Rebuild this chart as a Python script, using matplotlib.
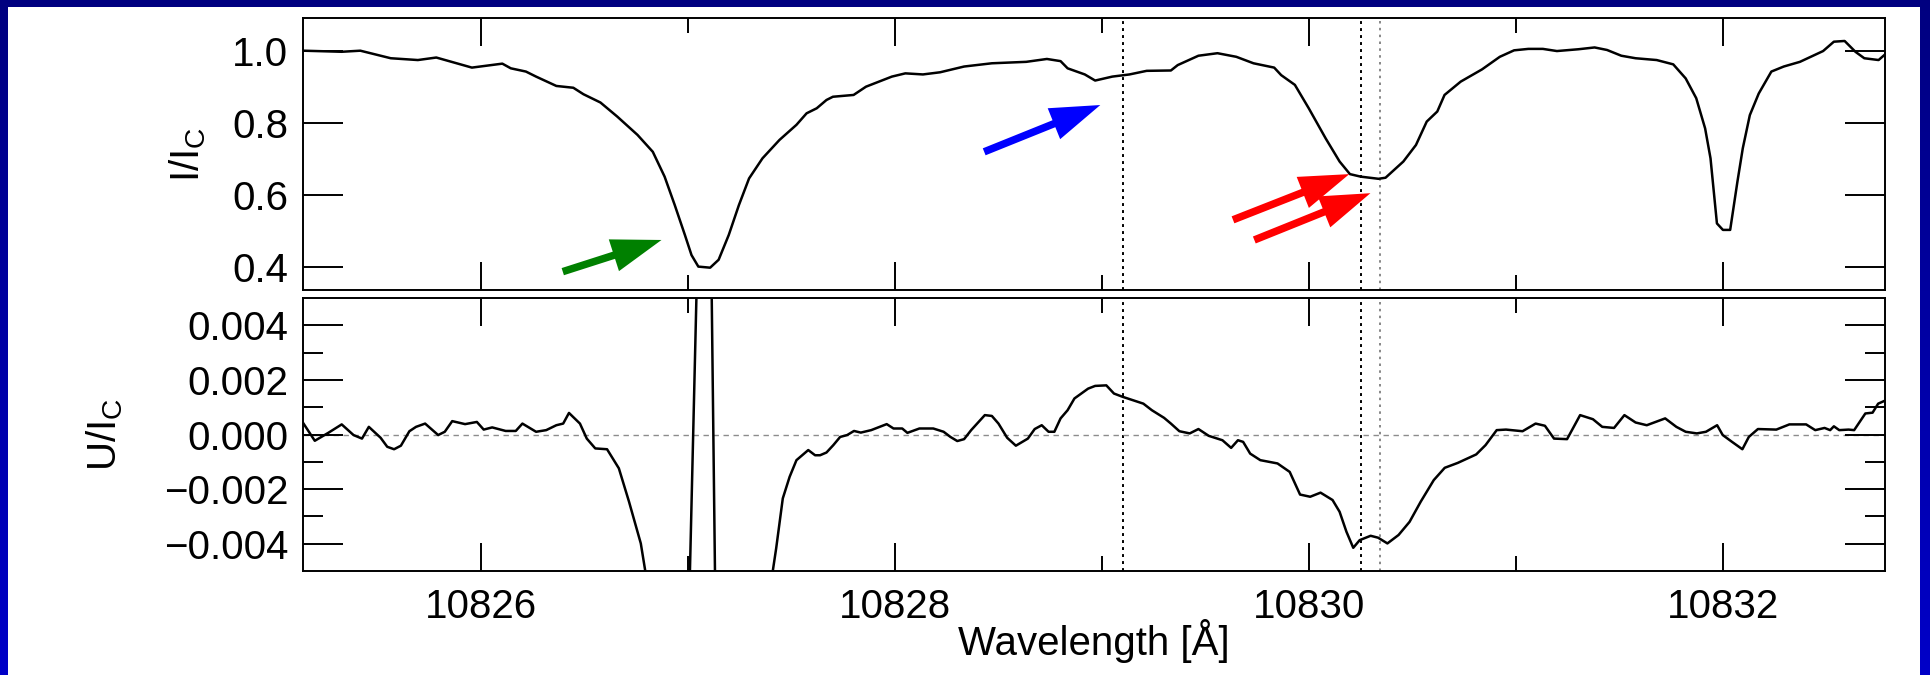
import numpy as np
import matplotlib
matplotlib.use("Agg")
import matplotlib.pyplot as plt
from matplotlib.colors import LinearSegmentedColormap
from matplotlib.patches import Rectangle, FancyArrowPatch
from matplotlib.ticker import MultipleLocator, FixedLocator, FuncFormatter

plt.rcParams["font.family"] = ["Liberation Sans", "DejaVu Sans"]
plt.rcParams["mathtext.fontset"] = "custom"
plt.rcParams["mathtext.rm"] = "Liberation Sans"

# Stokes I profile (normalised to the continuum)
wl_i = [
    10825.140, 10825.327, 10825.417, 10825.564, 10825.695, 10825.784, 10825.956, 10826.103, 10826.144, 10826.217,
    10826.266, 10826.364, 10826.446, 10826.495, 10826.577, 10826.658, 10826.756, 10826.830, 10826.887, 10826.936,
    10826.985, 10827.017, 10827.050, 10827.107, 10827.148, 10827.197, 10827.246, 10827.295, 10827.360, 10827.442,
    10827.524, 10827.573, 10827.622, 10827.669, 10827.700, 10827.800, 10827.860, 10827.985, 10828.050, 10828.135,
    10828.218, 10828.334, 10828.468, 10828.634, 10828.734, 10828.800, 10828.834, 10828.917, 10828.967, 10829.050,
    10829.133, 10829.216, 10829.333, 10829.366, 10829.466, 10829.558, 10829.649, 10829.732, 10829.832, 10829.866,
    10829.932, 10829.999, 10830.081, 10830.148, 10830.198, 10830.250, 10830.336, 10830.370, 10830.456, 10830.517,
    10830.569, 10830.620, 10830.655, 10830.733, 10830.836, 10830.922, 10830.991, 10831.060, 10831.130, 10831.198,
    10831.302, 10831.380, 10831.440, 10831.509, 10831.578, 10831.680, 10831.760, 10831.820, 10831.871, 10831.914,
    10831.940, 10831.971, 10832.000, 10832.035, 10832.070, 10832.096, 10832.130, 10832.173, 10832.234, 10832.294,
    10832.372, 10832.484, 10832.536, 10832.588, 10832.640, 10832.683, 10832.752, 10832.780,
]
stokes_i = [
    1.000, 0.997, 1.000, 0.979, 0.974, 0.981, 0.953, 0.964, 0.951, 0.942,
    0.928, 0.902, 0.897, 0.879, 0.856, 0.817, 0.766, 0.719, 0.650, 0.571,
    0.488, 0.432, 0.400, 0.397, 0.419, 0.488, 0.571, 0.645, 0.701, 0.752,
    0.794, 0.826, 0.840, 0.863, 0.872, 0.877, 0.900, 0.928, 0.937, 0.934,
    0.940, 0.956, 0.965, 0.969, 0.977, 0.971, 0.951, 0.934, 0.917, 0.928,
    0.934, 0.944, 0.945, 0.960, 0.986, 0.993, 0.983, 0.965, 0.953, 0.932,
    0.905, 0.840, 0.756, 0.692, 0.657, 0.650, 0.644, 0.647, 0.692, 0.738,
    0.803, 0.831, 0.877, 0.914, 0.948, 0.983, 1.001, 1.005, 1.005, 0.999,
    1.004, 1.009, 1.002, 0.986, 0.979, 0.974, 0.962, 0.923, 0.868, 0.784,
    0.701, 0.520, 0.502, 0.502, 0.636, 0.729, 0.821, 0.881, 0.942, 0.956,
    0.969, 0.999, 1.025, 1.027, 0.997, 0.979, 0.974, 0.988,
]

# Stokes U profile, in units of 1e-3 I_c
wl_u = [
    10825.140, 10825.197, 10825.262, 10825.327, 10825.384, 10825.425, 10825.458, 10825.515, 10825.547, 10825.580,
    10825.613, 10825.654, 10825.686, 10825.730, 10825.793, 10825.825, 10825.861, 10825.923, 10825.980, 10826.013,
    10826.054, 10826.119, 10826.168, 10826.200, 10826.266, 10826.315, 10826.364, 10826.397, 10826.425, 10826.478,
    10826.511, 10826.552, 10826.609, 10826.666, 10826.715, 10826.772, 10826.800, 10826.880, 10826.960, 10827.000,
    10827.050, 10827.080, 10827.110, 10827.135, 10827.250, 10827.380, 10827.426, 10827.458, 10827.491, 10827.524,
    10827.581, 10827.614, 10827.638, 10827.669, 10827.702, 10827.735, 10827.769, 10827.802, 10827.835, 10827.885,
    10827.960, 10827.993, 10828.035, 10828.060, 10828.118, 10828.185, 10828.235, 10828.268, 10828.301, 10828.334,
    10828.368, 10828.434, 10828.468, 10828.500, 10828.542, 10828.584, 10828.642, 10828.675, 10828.709, 10828.742,
    10828.770, 10828.800, 10828.834, 10828.867, 10828.933, 10828.967, 10829.021, 10829.058, 10829.100, 10829.200,
    10829.241, 10829.300, 10829.333, 10829.374, 10829.424, 10829.466, 10829.516, 10829.582, 10829.624, 10829.657,
    10829.682, 10829.716, 10829.765, 10829.848, 10829.907, 10829.957, 10830.006, 10830.056, 10830.114, 10830.148,
    10830.181, 10830.214, 10830.245, 10830.298, 10830.334, 10830.379, 10830.433, 10830.486, 10830.540, 10830.603,
    10830.656, 10830.719, 10830.808, 10830.853, 10830.907, 10830.952, 10831.032, 10831.095, 10831.140, 10831.184,
    10831.247, 10831.310, 10831.372, 10831.417, 10831.474, 10831.524, 10831.578, 10831.632, 10831.721, 10831.775,
    10831.820, 10831.874, 10831.918, 10831.972, 10831.999, 10832.044, 10832.094, 10832.125, 10832.169, 10832.258,
    10832.321, 10832.402, 10832.446, 10832.491, 10832.518, 10832.536, 10832.562, 10832.607, 10832.634, 10832.688,
    10832.723, 10832.750, 10832.777,
]
stokes_u_milli = [
    0.43, -0.23, 0.06, 0.37, -0.02, -0.15, 0.28, -0.12, -0.45, -0.54,
    -0.41, 0.12, 0.28, 0.40, -0.02, 0.10, 0.49, 0.38, 0.46, 0.18,
    0.26, 0.13, 0.13, 0.40, 0.10, 0.16, 0.34, 0.40, 0.79, 0.40,
    -0.15, -0.51, -0.54, -1.24, -2.46, -3.99, -5.30, -9.00, -11.50, -8.00,
    8.00, 14.00, 8.00, -8.00, -14.00, -6.50, -4.17, -2.34, -1.55, -0.94,
    -0.57, -0.76, -0.76, -0.66, -0.39, -0.09, -0.02, 0.13, 0.07, 0.16,
    0.38, 0.22, 0.22, 0.06, 0.22, 0.22, 0.10, -0.09, -0.24, -0.17,
    0.16, 0.71, 0.68, 0.40, -0.12, -0.41, -0.15, 0.20, 0.34, 0.10,
    0.10, 0.59, 0.89, 1.32, 1.68, 1.78, 1.80, 1.50, 1.38, 1.13,
    0.89, 0.61, 0.40, 0.12, 0.04, 0.20, -0.05, -0.21, -0.49, -0.21,
    -0.27, -0.70, -0.94, -1.06, -1.37, -2.20, -2.28, -2.13, -2.40, -2.83,
    -3.56, -4.15, -3.87, -3.71, -3.78, -3.99, -3.68, -3.20, -2.46, -1.67,
    -1.22, -1.04, -0.73, -0.39, 0.16, 0.18, 0.12, 0.40, 0.32, -0.15,
    -0.17, 0.71, 0.56, 0.28, 0.24, 0.71, 0.44, 0.34, 0.59, 0.28,
    0.10, 0.04, 0.10, 0.34, -0.02, -0.27, -0.54, -0.09, 0.20, 0.18,
    0.37, 0.37, 0.16, 0.24, 0.16, 0.30, 0.16, 0.18, 0.16, 0.77,
    0.80, 1.13, 1.22,
]

# reference wavelengths marked with dotted lines
marker_black = [10829.10, 10830.253]
marker_grey = [10830.343]

# arrows on the intensity panel: tail and tip in (wavelength, I/Ic)
arrow_tail_wl = [10826.395, 10828.431, 10829.633, 10829.736]
arrow_tail_i = [0.386, 0.719, 0.530, 0.474]
arrow_tip_wl = [10826.872, 10828.992, 10830.195, 10830.297]
arrow_tip_i = [0.474, 0.849, 0.657, 0.604]
arrow_colors = ["#008000", "#0000ff", "#ff0000", "#ff0000"]

W, H = 1931, 675
FS = 29

fig = plt.figure(figsize=(W / 100, H / 100), dpi=100)

# slide background: blue gradient with a white card on top
bg = fig.add_axes([0, 0, 1, 1], zorder=-10)
slide_cmap = LinearSegmentedColormap.from_list("slide", ["#000080", "#0000c8"])
bg.imshow(np.linspace(0, 1, 256).reshape(-1, 1), aspect="auto", cmap=slide_cmap,
          extent=[0, 1, 0, 1], origin="upper")
bg.add_patch(Rectangle((8 / W, 0), (1920 - 8) / W, (H - 7.3) / H,
                       facecolor="white", edgecolor="none"))
bg.set_xlim(0, 1)
bg.set_ylim(0, 1)
bg.axis("off")


def px_axes(left, top, right, bottom):
    return fig.add_axes([left / W, 1 - bottom / H, (right - left) / W, (bottom - top) / H])


ax_i = px_axes(303, 18.3, 1885, 290)
ax_u = px_axes(303, 298, 1885, 571)

for ax in (ax_i, ax_u):
    ax.set_xlim(10825.14, 10832.783)
    ax.xaxis.set_major_locator(MultipleLocator(2))
    ax.xaxis.set_minor_locator(MultipleLocator(1))
    ax.tick_params(which="both", direction="in", top=True, right=True,
                   width=1.4, labelsize=FS)
    ax.tick_params(axis="x", which="major", length=20, pad=12)
    ax.tick_params(axis="x", which="minor", length=11)
    ax.tick_params(axis="y", which="major", length=29, pad=10.5)
    ax.tick_params(axis="y", which="minor", length=14.5)
    for sp in ax.spines.values():
        sp.set_linewidth(1.4)
    for x in marker_black:
        ax.axvline(x, color="black", lw=1.4, linestyle=(0, (1.5, 2.1)), zorder=1)
    for x in marker_grey:
        ax.axvline(x, color="0.45", lw=1.2, linestyle=(0, (1.5, 2.6)), zorder=1)

# intensity panel
ax_i.plot(wl_i, stokes_i, color="black", lw=1.8, zorder=3)
ax_i.set_ylim(0.335, 1.09)
ax_i.yaxis.set_major_locator(FixedLocator([0.4, 0.6, 0.8, 1.0]))
ax_i.yaxis.set_major_formatter(FuncFormatter(lambda v, p: f"{v:.1f}"))
ax_i.tick_params(axis="x", labelbottom=False)
ax_i.set_ylabel(r"I/I$_\mathrm{C}$", fontsize=FS)
ax_i.yaxis.set_label_coords(-0.060, 0.5)

for x0, y0, x1, y1, c in zip(arrow_tail_wl, arrow_tail_i, arrow_tip_wl, arrow_tip_i, arrow_colors):
    ax_i.add_patch(FancyArrowPatch(
        (x0, y0), (x1, y1),
        arrowstyle="simple,head_length=1.8,head_width=1.2,tail_width=0.27",
        mutation_scale=20, color=c, shrinkA=0, shrinkB=0, lw=0, zorder=4))

# Stokes U panel
u_vals = np.array(stokes_u_milli) * 1e-3
ax_u.axhline(0.0, color="0.55", lw=1.0, linestyle=(0, (3.9, 3.3)), zorder=1)
ax_u.plot(wl_u, u_vals, color="black", lw=1.8, zorder=3)
ax_u.set_ylim(-0.005, 0.005)
ax_u.yaxis.set_major_locator(FixedLocator([-0.004, -0.002, 0.0, 0.002, 0.004]))
ax_u.yaxis.set_minor_locator(FixedLocator([-0.003, -0.001, 0.001, 0.003]))


def u_fmt(v, pos):
    if abs(v) < 1e-12:
        v = 0.0
    return f"{v:.3f}".replace("-", "\u2212")


ax_u.yaxis.set_major_formatter(FuncFormatter(u_fmt))
ax_u.xaxis.set_major_formatter(FuncFormatter(lambda v, p: f"{v:.0f}"))
ax_u.set_ylabel(r"U/I$_\mathrm{C}$", fontsize=FS)
ax_u.yaxis.set_label_coords(-0.1125, 0.5)
ax_u.set_xlabel("Wavelength [Å]", fontsize=FS, labelpad=-5)

fig.savefig("out.png", dpi=100)
